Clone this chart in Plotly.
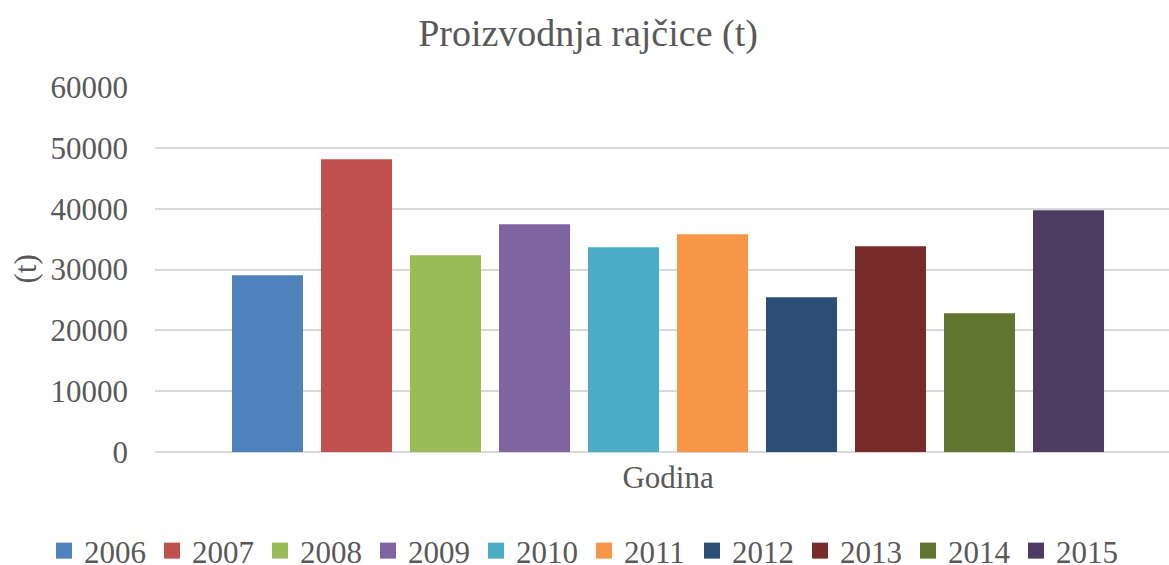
import plotly.graph_objects as go

years = ["2006", "2007", "2008", "2009", "2010", "2011", "2012", "2013", "2014", "2015"]
values = [29050, 48120, 32340, 37430, 33650, 35790, 25430, 33820, 22800, 39730]
colors = ["#4F81BD", "#C0504D", "#9BBB59", "#8064A2", "#4BACC6",
          "#F79646", "#2C4D75", "#772C2A", "#5F7530", "#4D3B62"]
category = ["Godina"]
y_ticks = [0, 10000, 20000, 30000, 40000, 50000, 60000]

FONT = "Liberation Serif, Times New Roman, serif"
TXT = "#595959"

fig = go.Figure()
for yr, v, c in zip(years, values, colors):
    fig.add_trace(go.Bar(name=yr, x=category, y=[v], marker_color=c,
                         marker_line_width=0, legendgroup=yr, showlegend=False))
# legend entries with larger square swatches (no data points drawn)
for yr, c in zip(years, colors):
    fig.add_trace(go.Scatter(name=yr, x=[None], y=[None], mode="markers",
                             legendgroup=yr, showlegend=True,
                             marker=dict(symbol="square", size=16, color=c)))

fig.update_layout(
    width=1169, height=565,
    margin=dict(l=0, r=0, t=87, b=113, autoexpand=False),
    paper_bgcolor="white", plot_bgcolor="white",
    barmode="group", bargap=0.0, bargroupgap=0.202,
    font=dict(family=FONT, color=TXT, size=31),
    title=dict(text="Proizvodnja rajčice (t)", xref="container", yref="container",
               x=0.503, xanchor="center", y=0.942, yanchor="middle",
               font=dict(family=FONT, size=38, color=TXT)),
    showlegend=True,
    legend=dict(orientation="h", xref="container", yref="container",
                x=44 / 1169, xanchor="left", y=0.0248, yanchor="middle",
                font=dict(family=FONT, size=31, color=TXT),
                entrywidth=63, entrywidthmode="pixels",
                traceorder="normal"),
    xaxis=dict(domain=[155 / 1169, 1], range=[-0.5764, 0.5629], showgrid=False,
               showline=False, ticks="", tickfont=dict(family=FONT, size=31, color=TXT),
               ticklabelstandoff=4),
    yaxis=dict(range=[0, 60000], tickvals=y_ticks, tickformat="d", showgrid=True,
               gridcolor="#D9D9D9", gridwidth=1.5, zeroline=True,
               zerolinecolor="#D9D9D9", zerolinewidth=1.5, showline=False,
               ticks="", tickfont=dict(family=FONT, size=31, color=TXT),
               ticklabelstandoff=26),
    annotations=[dict(text="(t)", xref="paper", yref="paper",
                      x=25 / 1169, y=(452 - 269.5) / 365,
                      xanchor="center", yanchor="middle", textangle=-90,
                      showarrow=False, font=dict(family=FONT, size=31, color=TXT))],
)

fig.write_html("out.html", config={"displayModeBar": False},
               post_script="document.body.style.margin='0';")
